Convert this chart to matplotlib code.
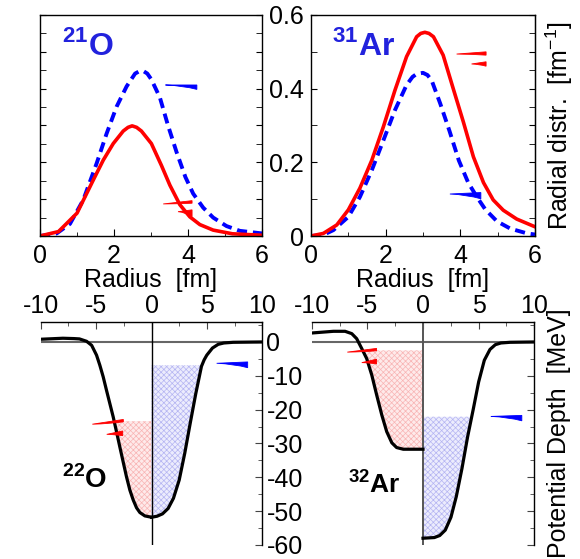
import matplotlib
matplotlib.use("Agg")
import matplotlib.pyplot as plt
from matplotlib.path import Path
from matplotlib.patches import PathPatch
from matplotlib.ticker import MultipleLocator

plt.rcParams['font.family'] = ['Liberation Sans', 'DejaVu Sans']
plt.rcParams['mathtext.fontset'] = 'custom'
plt.rcParams['mathtext.rm'] = 'Liberation Sans'
plt.rcParams['mathtext.bf'] = 'Liberation Sans:bold'
plt.rcParams['axes.unicode_minus'] = False
plt.rcParams['hatch.linewidth'] = 0.5

# radial distributions
r_21O_p = [0, 0.5, 1.0, 1.44, 1.71, 1.98, 2.25, 2.38, 2.49, 2.61, 2.74, 3.01, 3.28, 3.51, 3.78, 4.05, 4.32, 4.68, 5.2, 6.0]
rho_21O_p = [0, 0.012, 0.062, 0.152, 0.206, 0.251, 0.285, 0.295, 0.299, 0.295, 0.285, 0.251, 0.192, 0.138, 0.085, 0.052, 0.031, 0.016, 0.006, 0.002]
r_21O_n = [0, 0.45, 0.81, 1.17, 1.53, 1.80, 2.07, 2.34, 2.57, 2.68, 2.79, 2.90, 3.01, 3.24, 3.46, 3.69, 3.93, 4.14, 4.41, 4.68, 5.04, 5.40, 6.0]
rho_21O_n = [0, 0.007, 0.033, 0.098, 0.197, 0.278, 0.351, 0.406, 0.441, 0.447, 0.448, 0.441, 0.425, 0.376, 0.300, 0.228, 0.160, 0.115, 0.077, 0.050, 0.027, 0.014, 0.007]

r_31Ar_p = [0, 0.33, 0.69, 1.0, 1.31, 1.63, 1.94, 2.25, 2.56, 2.83, 2.94, 3.05, 3.16, 3.28, 3.54, 3.81, 4.08, 4.35, 4.62, 4.88, 5.15, 5.51, 6.0]
rho_31Ar_p = [0, 0.007, 0.030, 0.071, 0.130, 0.206, 0.297, 0.396, 0.487, 0.541, 0.550, 0.553, 0.550, 0.541, 0.491, 0.40, 0.31, 0.215, 0.145, 0.098, 0.070, 0.046, 0.025]
r_31Ar_n = [0, 0.33, 0.6, 1.0, 1.31, 1.63, 1.94, 2.25, 2.56, 2.72, 2.83, 3.0, 3.12, 3.23, 3.46, 3.71, 3.96, 4.21, 4.45, 4.67, 4.98, 5.34, 5.79, 6.0]
rho_31Ar_n = [0, 0.003, 0.016, 0.052, 0.106, 0.179, 0.260, 0.342, 0.410, 0.432, 0.440, 0.443, 0.437, 0.423, 0.360, 0.285, 0.205, 0.145, 0.105, 0.072, 0.040, 0.020, 0.007, 0.004]

# potentials: protons on the left (x<0), neutrons on the right (x>0)
x_22O_p = [-10, -8, -7, -6.5, -5.86, -5.4, -4.96, -4.66, -4.36, -4.06, -3.76, -3.46, -3.16, -2.86, -2.56, -2.26, -1.95, -1.65, -1.35, -1.05, -0.6, 0]
V_22O_p = [0.8, 1.1, 1.0, 0.9, 0.2, -1.0, -3.9, -6.9, -10.3, -14.3, -18.2, -22.1, -26.5, -31.0, -35.4, -39.8, -43.8, -46.7, -49.0, -50.4, -51.4, -51.8]
x_22O_n = [0, 0.5, 0.99, 1.5, 1.98, 2.5, 3.0, 3.49, 4.0, 4.51, 4.75, 4.99, 5.5, 6.02, 6.53, 7.37, 10]
V_22O_n = [-51.8, -51.5, -50.8, -49.2, -46.2, -40.8, -32.9, -24.1, -15.2, -7.2, -5.3, -3.9, -1.8, -0.7, -0.3, -0.1, 0.0]

x_32Ar_p = [-10, -8.05, -7.0, -6.4, -5.96, -5.5, -5.06, -4.6, -4.16, -3.7, -3.26, -2.8, -2.37, -1.77, 0]
V_32Ar_p = [2.65, 3.15, 3.15, 2.46, 0.98, -1.97, -4.9, -9.8, -15.7, -21.6, -26.5, -29.8, -31.2, -31.7, -31.7]
x_32Ar_n = [0, 1.02, 1.5, 2.0, 2.51, 2.99, 3.5, 4.01, 4.52, 5.0, 5.51, 6.02, 6.5, 7.0, 7.81, 10]
V_32Ar_n = [-58.0, -57.8, -57.2, -55.6, -51.8, -45.7, -37.4, -28.0, -19.8, -11.8, -5.4, -2.2, -0.8, -0.3, -0.1, 0.0]

# last filled levels
fermi_22O = {'p': -23.4, 'n': -6.9}
fermi_32Ar = {'p': -2.5, 'n': -22.1}

# little level flags: tip x, end x, tip y, end top y, end bottom y, colour
flags_21O = [(3.39, 4.24, 0.410, 0.410, 0.398, 'blue'),
             (3.33, 4.11, 0.087, 0.096, 0.089, 'red'),
             (3.73, 4.11, 0.066, 0.071, 0.053, 'red')]
flags_31Ar = [(3.90, 4.69, 0.494, 0.500, 0.491, 'red'),
              (4.30, 4.69, 0.467, 0.473, 0.461, 'red'),
              (3.72, 4.55, 0.114, 0.118, 0.101, 'blue')]
flags_22O = [(-5.34, -2.54, -24.3, -22.9, -23.6, 'red'),
             (-4.04, -2.60, -27.3, -26.3, -27.7, 'red'),
             (5.88, 8.68, -6.3, -5.9, -7.6, 'blue')]
flags_32Ar = [(-6.8, -4.17, -3.0, -1.9, -2.6, 'red'),
              (-5.5, -4.17, -6.1, -5.1, -6.5, 'red'),
              (6.1, 8.88, -22.0, -21.7, -23.3, 'blue')]

FS = 18
label_col = '#2222dd'


def draw_flags(ax, flags):
    for x0, x1, y0, yt, yb, c in flags:
        L = x1 - x0
        verts = [(x0, y0), (x1, yt), (x1, yb),
                 (x1 - 0.45 * L, y0 + 0.15 * (yb - y0)), (x0, y0), (x0, y0)]
        codes = [Path.MOVETO, Path.LINETO, Path.LINETO,
                 Path.CURVE3, Path.CURVE3, Path.CLOSEPOLY]
        ax.add_patch(PathPatch(Path(verts, codes), facecolor=c, edgecolor=c,
                               lw=0.6, zorder=5, clip_on=False))


def radial_panel(ax, rp, yp, rn, yn):
    ax.plot(rn, yn, color='blue', lw=2.8, dashes=(2.6, 1.5), solid_joinstyle='round')
    ax.plot(rp, yp, color='red', lw=2.6, solid_joinstyle='round')
    ax.set_xlim(0, 6)
    ax.set_ylim(0, 0.6)
    ax.xaxis.set_major_locator(MultipleLocator(2))
    ax.xaxis.set_minor_locator(MultipleLocator(1))
    ax.tick_params(axis='both', which='both', direction='in', labelsize=FS)
    ax.tick_params(axis='x', which='major', length=5, pad=6)
    ax.tick_params(axis='x', which='minor', length=3)
    ax.set_xlabel('Radius  [fm]', fontsize=FS, labelpad=0)
    for s in ax.spines.values():
        s.set_linewidth(1.0)


def potential_panel(ax, xp, Vp, xn, Vn, fermi, vline_col, vline_lw):
    ax.fill_between(xp, Vp, fermi['p'], where=[v <= fermi['p'] for v in Vp],
                    interpolate=True, facecolor='#feeaea', edgecolor='#f8b4b4',
                    hatch='xxxxxx', linewidth=0, zorder=1)
    ax.fill_between(xn, Vn, fermi['n'], where=[v <= fermi['n'] for v in Vn],
                    interpolate=True, facecolor='#ececfd', edgecolor='#b4b4f2',
                    hatch='xxxxxx', linewidth=0, zorder=1)
    ax.axhline(0, color='#666666', lw=1.5, zorder=2)
    ax.axvline(0, color=vline_col, lw=vline_lw, zorder=2)
    ax.plot(xp, Vp, color='black', lw=2.3, zorder=3, solid_joinstyle='round')
    ax.plot(xn, Vn, color='black', lw=2.3, zorder=3, solid_joinstyle='round')
    ax.set_xlim(-10, 10)
    ax.set_ylim(-60, 5.9)
    ax.spines['left'].set_visible(False)
    ax.spines['bottom'].set_visible(False)
    ax.spines['top'].set_linewidth(1.0)
    ax.spines['right'].set_linewidth(1.0)
    ax.xaxis.tick_top()
    ax.yaxis.tick_right()
    ax.xaxis.set_major_locator(MultipleLocator(5))
    ax.xaxis.set_minor_locator(MultipleLocator(2.5))
    ax.yaxis.set_major_locator(MultipleLocator(10))
    ax.yaxis.set_minor_locator(MultipleLocator(5))
    ax.tick_params(axis='both', which='both', direction='in', labelsize=FS,
                   color='#444444')
    ax.tick_params(axis='both', which='major', length=5, pad=3)
    ax.tick_params(axis='both', which='minor', length=3)


fig = plt.figure(figsize=(5.8, 5.59), dpi=100)
W, H = 580.0, 559.0
ax1 = fig.add_axes([40 / W, 1 - 236 / H, 222 / W, 221 / H])
ax2 = fig.add_axes([311 / W, 1 - 236 / H, 224 / W, 221 / H])
ax3 = fig.add_axes([40.7 / W, 1 - 545 / H, 221.6 / W, 223 / H])
ax4 = fig.add_axes([311.7 / W, 1 - 545 / H, 222.6 / W, 223 / H])

# top left: 21O
radial_panel(ax1, r_21O_p, rho_21O_p, r_21O_n, rho_21O_n)
ax1.yaxis.set_major_locator(MultipleLocator(0.1))
ax1.yaxis.set_minor_locator(MultipleLocator(0.05))
ax1.tick_params(axis='y', which='both', left=True, right=True, labelleft=False, length=4)
ax1.text(0.10, 0.82, r'$^{\mathbf{21}}$O', transform=ax1.transAxes, fontsize=23,
         fontweight='bold', color=label_col, ha='left', va='baseline')
draw_flags(ax1, flags_21O)

# top right: 31Ar
radial_panel(ax2, r_31Ar_p, rho_31Ar_p, r_31Ar_n, rho_31Ar_n)
ax2.yaxis.set_major_locator(MultipleLocator(0.2))
ax2.yaxis.set_minor_locator(MultipleLocator(0.1))
ax2.yaxis.set_major_formatter(plt.FuncFormatter(lambda v, p: '0' if abs(v) < 1e-9 else f'{v:g}'))
ax2.tick_params(axis='y', which='both', left=True, right=False, length=4, pad=5)
sec = ax2.secondary_yaxis('right')
sec.yaxis.set_major_locator(MultipleLocator(0.1))
sec.yaxis.set_minor_locator(MultipleLocator(0.05))
sec.tick_params(axis='y', which='both', direction='in', length=4, labelright=False)
sec.set_ylabel('Radial distr.  [fm$^{-1}$]', fontsize=FS, labelpad=6)
ax2.text(0.094, 0.82, r'$^{\mathbf{31}}$Ar', transform=ax2.transAxes, fontsize=23,
         fontweight='bold', color=label_col, ha='left', va='baseline')
draw_flags(ax2, flags_31Ar)

# bottom left: 22O
potential_panel(ax3, x_22O_p, V_22O_p, x_22O_n, V_22O_n, fermi_22O, 'black', 1.0)
ax3.text(0.096, 0.256, r'$^{\mathbf{22}}$O', transform=ax3.transAxes, fontsize=20,
         fontweight='bold', color='black', ha='left', va='baseline')
draw_flags(ax3, flags_22O)

# bottom right: 32Ar
potential_panel(ax4, x_32Ar_p, V_32Ar_p, x_32Ar_n, V_32Ar_n, fermi_32Ar, '#555555', 1.4)
ax4.tick_params(axis='y', labelright=False)
ax4.yaxis.set_label_position('right')
ax4.set_ylabel('Potential Depth  [MeV]', fontsize=FS, labelpad=6)
ax4.text(0.163, 0.233, r'$^{\mathbf{32}}$Ar', transform=ax4.transAxes, fontsize=19,
         fontweight='bold', color='black', ha='left', va='baseline')
draw_flags(ax4, flags_32Ar)

fig.savefig('out.png', dpi=100)
